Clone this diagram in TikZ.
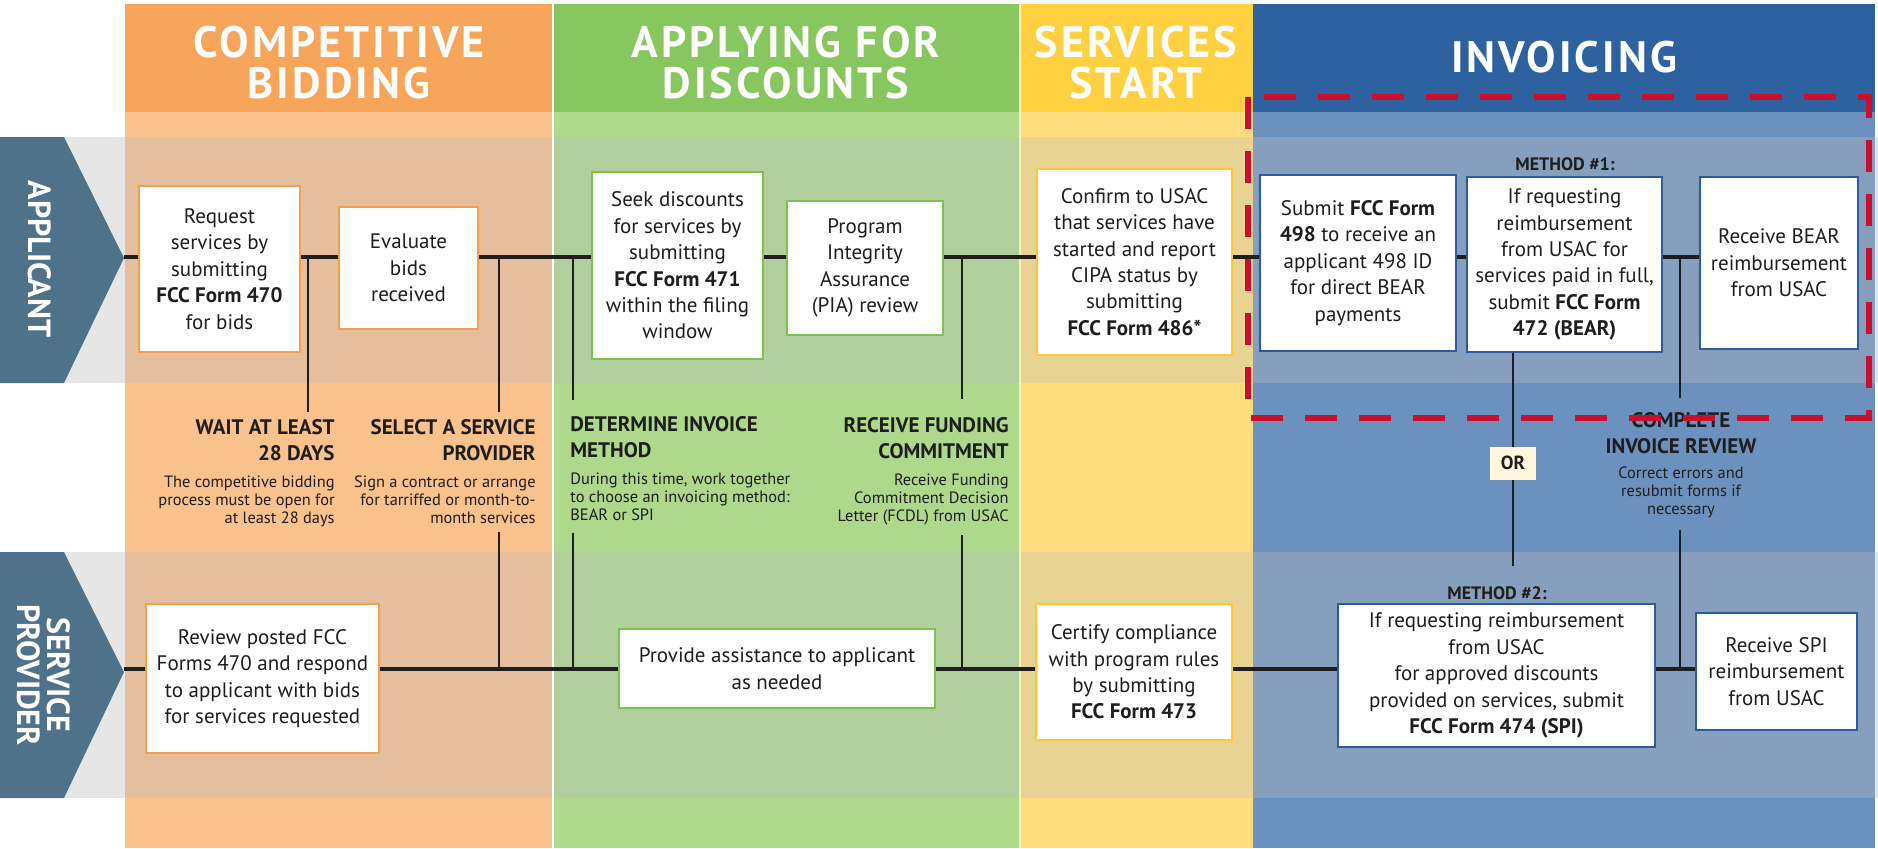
\documentclass[tikz,border=0pt]{standalone}
\usepackage{fontspec}
\setmainfont{PT Sans}
\newfontfamily\phasefont[LetterSpace=7]{PT Sans}
\definecolor{ecOrange}{HTML}{F7A55B}
\definecolor{ecOrangeLight}{HTML}{F9C28C}
\definecolor{ecOrangeLane}{HTML}{E5BF9D}
\definecolor{ecOrangeEdge}{HTML}{F5A04A}
\definecolor{ecGreen}{HTML}{88C75F}
\definecolor{ecGreenLight}{HTML}{AED88C}
\definecolor{ecGreenLane}{HTML}{B1CF9D}
\definecolor{ecGreenEdge}{HTML}{7CC250}
\definecolor{ecYellow}{HTML}{FFD140}
\definecolor{ecYellowLight}{HTML}{FFDD7F}
\definecolor{ecYellowLane}{HTML}{E9D393}
\definecolor{ecYellowEdge}{HTML}{FFC933}
\definecolor{ecBlue}{HTML}{2E61A0}
\definecolor{ecBlueLight}{HTML}{6D91BF}
\definecolor{ecBlueLane}{HTML}{879FBF}
\definecolor{ecBlueEdge}{HTML}{2A5C9E}
\definecolor{ecGrey}{HTML}{E6E6E6}
\definecolor{ecArrow}{HTML}{4F7189}
\definecolor{ecText}{HTML}{1E1E1E}
\definecolor{ecRed}{HTML}{C8102E}
\definecolor{ecCream}{HTML}{FFF6DC}
\usepackage{tikz}
\usetikzlibrary{positioning}

\tikzset{
  phase/.style={text=white, font=\phasefont\fontsize{22}{20.5}\selectfont\bfseries, align=center},
  lane/.style={text=white, font=\fontsize{16}{15}\selectfont\bfseries, align=center, rotate=-90},
  stepbox/.style={draw=#1, fill=white, line width=1.2pt, align=center, inner sep=2pt,
    text=ecText, font=\fontsize{10.5}{13.2}\selectfont},
  mainline/.style={draw=ecText, line width=2pt},
  linkline/.style={draw=ecText, line width=1pt},
  midtitle/.style={text=ecText, inner sep=0pt, font=\fontsize{10.5}{13}\selectfont\bfseries},
  middesc/.style={text=ecText, inner sep=0pt, font=\fontsize{8.2}{9}\selectfont},
  methodlabel/.style={text=ecText, inner sep=1pt, font=\fontsize{9}{10}\selectfont\bfseries},
}

\begin{document}
\begin{tikzpicture}[x=0.5pt, y=-0.5pt]
  \useasboundingbox (0,0) rectangle (1878,848);

  % Lanes
  \fill[ecGrey] (64,137) rectangle (1878,383);
  \fill[ecGrey] (64,552) rectangle (1878,798);

  % Competitive bidding
  \fill[ecOrange] (125,4) rectangle (553,112);
  \fill[ecOrangeLight] (125,112) rectangle (553,848);
  \fill[ecOrangeLane] (125,137) rectangle (553,383);
  \fill[ecOrangeLane] (125,552) rectangle (553,798);
  \node[phase] (hbid) at (339,63) {COMPETITIVE\\BIDDING};

  % Applying for discounts
  \fill[ecGreen] (553,4) rectangle (1020,112);
  \fill[ecGreenLight] (553,112) rectangle (1020,848);
  \fill[ecGreenLane] (553,137) rectangle (1020,383);
  \fill[ecGreenLane] (553,552) rectangle (1020,798);
  \node[phase] (happ) at (786,63) {APPLYING FOR\\DISCOUNTS};

  % Services start
  \fill[ecYellow] (1020,4) rectangle (1253,112);
  \fill[ecYellowLight] (1020,112) rectangle (1253,848);
  \fill[ecYellowLane] (1020,137) rectangle (1253,383);
  \fill[ecYellowLane] (1020,552) rectangle (1253,798);
  \node[phase] (hsrv) at (1136,63) {SERVICES\\START};

  % Invoicing
  \fill[ecBlue] (1253,4) rectangle (1875,112);
  \fill[ecBlueLight] (1253,112) rectangle (1875,848);
  \fill[ecBlueLane] (1253,137) rectangle (1875,383);
  \fill[ecBlueLane] (1253,552) rectangle (1875,798);
  \node[phase] (hinv) at (1564,57) {INVOICING};

  \draw[white, line width=0.6pt] (553,4) -- (553,848);
  \draw[white!60!ecYellow, line width=0.6pt] (1020,4) -- (1020,848);

  % Lane arrows
  \fill[ecArrow] (0,137) -- (64,137) -- (124,258) -- (64,383) -- (0,383) -- cycle;
  \fill[ecArrow] (0,552) -- (64,552) -- (124,672) -- (64,798) -- (0,798) -- cycle;
  \coordinate (atip) at (124,257);
  \coordinate (stip) at (124,669);
  \node[lane] (lapp) at (40,259) {APPLICANT};
  \node[lane] (lsp) at (44,675) {SERVICE\\PROVIDER};

  \coordinate (aline) at (0,257);
  \coordinate (sline) at (0,669);

  % Applicant steps
  \node[stepbox=ecOrangeEdge, minimum width=80.5pt, minimum height=83pt] (req) at (219.5,269)
    {Request\\services by\\submitting\\\textbf{FCC Form 470}\\for bids};
  \node[stepbox=ecOrangeEdge, minimum width=69.5pt, minimum height=61pt] (eval) at (408.5,268)
    {Evaluate\\bids\\received};
  \node[stepbox=ecGreenEdge, minimum width=85.5pt, minimum height=93.5pt] (seek) at (677.5,265.5)
    {Seek discounts\\for services by\\submitting\\\textbf{FCC Form 471}\\within the filing\\window};
  \node[stepbox=ecGreenEdge, minimum width=78pt, minimum height=67pt] (pia) at (865,268)
    {Program\\Integrity\\Assurance\\(PIA) review};
  \node[stepbox=ecYellowEdge, minimum width=97.5pt, minimum height=93pt] (confirm) at (1134.5,262)
    {Confirm to USAC\\that services have\\started and report\\CIPA status by\\submitting\\\textbf{FCC Form 486*}};
  \node[stepbox=ecBlueEdge, minimum width=98pt, minimum height=88pt] (form498) at (1358,263)
    {Submit \textbf{FCC Form}\\\textbf{498} to receive an\\applicant 498 ID\\for direct BEAR\\payments};
  \node[stepbox=ecBlueEdge, minimum width=97.5pt, minimum height=87.5pt] (meth1) at (1564.5,264.5)
    {If requesting\\reimbursement\\from USAC for\\services paid in full,\\submit \textbf{FCC Form}\\\textbf{472 (BEAR)}};
  \node[stepbox=ecBlueEdge, minimum width=79pt, minimum height=86pt] (bear) at (1779,263)
    {Receive BEAR\\reimbursement\\from USAC};
  \node[methodlabel] (m1lab) at (1565,164) {METHOD \#1:};

  % Service provider steps
  \node[stepbox=ecOrangeEdge, minimum width=116.5pt, minimum height=74.5pt] (review) at (262.5,678.5)
    {Review posted FCC\\Forms 470 and respond\\to applicant with bids\\for services requested};
  \node[stepbox=ecGreenEdge, minimum width=158pt, minimum height=39.5pt] (assist) at (777,668.5)
    {Provide assistance to applicant\\as needed};
  \node[stepbox=ecYellowEdge, minimum width=98pt, minimum height=68pt] (certify) at (1134,672)
    {Certify compliance\\with program rules\\by submitting\\\textbf{FCC Form 473}};
  \node[stepbox=ecBlueEdge, minimum width=158.5pt, minimum height=71.5pt] (meth2) at (1496.5,675.5)
    {If requesting reimbursement\\from USAC\\for approved discounts\\provided on services, submit\\\textbf{FCC Form 474 (SPI)}};
  \node[stepbox=ecBlueEdge, minimum width=80.5pt, minimum height=58.5pt] (spi) at (1776.5,671.5)
    {Receive SPI\\reimbursement\\from USAC};
  \node[methodlabel] (m2lab) at (1497,593) {METHOD \#2:};

  % Milestones
  \node[midtitle, align=right, anchor=north east] (wait) at (335,419) {WAIT AT LEAST\\28 DAYS};
  \node[middesc, align=right, below=7pt of wait.south east, anchor=north east] (waitd)
    {The competitive bidding\\process must be open for\\at least 28 days};
  \node[midtitle, align=right, anchor=north east] (sel) at (536,419) {SELECT A SERVICE\\PROVIDER};
  \node[middesc, align=right, below=7pt of sel.south east, anchor=north east] (seld)
    {Sign a contract or arrange\\for tarriffed or month-to-\\month services};
  \node[midtitle, align=left, anchor=north west] (det) at (570,416) {DETERMINE INVOICE\\METHOD};
  \node[middesc, align=left, below=7pt of det.south west, anchor=north west] (detd)
    {During this time, work together\\to choose an invoicing method:\\BEAR or SPI};
  \node[midtitle, align=right, anchor=north east] (fund) at (1009,417) {RECEIVE FUNDING\\COMMITMENT};
  \node[middesc, align=right, below=7pt of fund.south east, anchor=north east] (fundd)
    {Receive Funding\\Commitment Decision\\Letter (FCDL) from USAC};
  \node[midtitle, align=center, anchor=north] (comp) at (1681,412) {COMPLETE\\INVOICE REVIEW};
  \node[middesc, align=center, below=6pt of comp.south, anchor=north] (compd)
    {Correct errors and\\resubmit forms if\\necessary};

  % Applicant line
  \draw[mainline] (atip) -- (req.west |- aline);
  \draw[mainline] (req.east |- aline) -- (eval.west |- aline);
  \draw[mainline] (eval.east |- aline) -- (seek.west |- aline);
  \draw[mainline] (seek.east |- aline) -- (pia.west |- aline);
  \draw[mainline] (pia.east |- aline) -- (confirm.west |- aline);
  \draw[mainline] (confirm.east |- aline) -- (form498.west |- aline);
  \draw[mainline] (form498.east |- aline) -- (meth1.west |- aline);
  \draw[mainline] (meth1.east |- aline) -- (bear.west |- aline);

  % Service provider line
  \draw[mainline] (stip) -- (review.west |- sline);
  \draw[mainline] (review.east |- sline) -- (assist.west |- sline);
  \draw[mainline] (assist.east |- sline) -- (certify.west |- sline);
  \draw[mainline] (certify.east |- sline) -- (meth2.west |- sline);
  \draw[mainline] (meth2.east |- sline) -- (spi.west |- sline);

  % Links to milestones
  \coordinate (jwait) at (308,257);
  \coordinate (jsel) at (499,257);
  \coordinate (jdet) at (573,257);
  \coordinate (jfund) at (962,257);
  \coordinate (jcomp) at (1680,257);
  \coordinate (jor) at (1513,257);
  \draw[linkline, shorten >=3.5pt] (jwait) -- (jwait |- wait.north);
  \draw[linkline, shorten >=3.5pt] (jsel) -- (jsel |- sel.north);
  \draw[linkline, shorten <=4pt] (jsel |- seld.south) -- (jsel |- sline);
  \draw[linkline, shorten >=8pt] (jdet) -- (jdet |- det.north);
  \draw[linkline, shorten <=6pt] (jdet |- detd.south) -- (jdet |- sline);
  \draw[linkline, shorten >=9pt] (jfund) -- (jfund |- fund.north);
  \draw[linkline, shorten <=5pt] (jfund |- fundd.south) -- (jfund |- sline);
  \draw[linkline, shorten >=7pt] (jcomp) -- (jcomp |- comp.north);
  \draw[linkline, shorten <=6pt] (jcomp |- compd.south) -- (jcomp |- sline);
  \draw[linkline, shorten >=9pt] (jor |- meth1.south) -- (jor |- m2lab.north);
  \node[fill=ecCream, text=ecText, font=\fontsize{9.5}{10}\selectfont\bfseries,
    minimum width=23pt, minimum height=16.5pt, inner sep=1pt] (orbox) at (1513,463) {OR};

  % BEAR method frame
  \draw[ecRed, line width=3.2pt, dash pattern=on 16pt off 11pt] (1248,97) rectangle (1869,418);
\end{tikzpicture}
\end{document}
